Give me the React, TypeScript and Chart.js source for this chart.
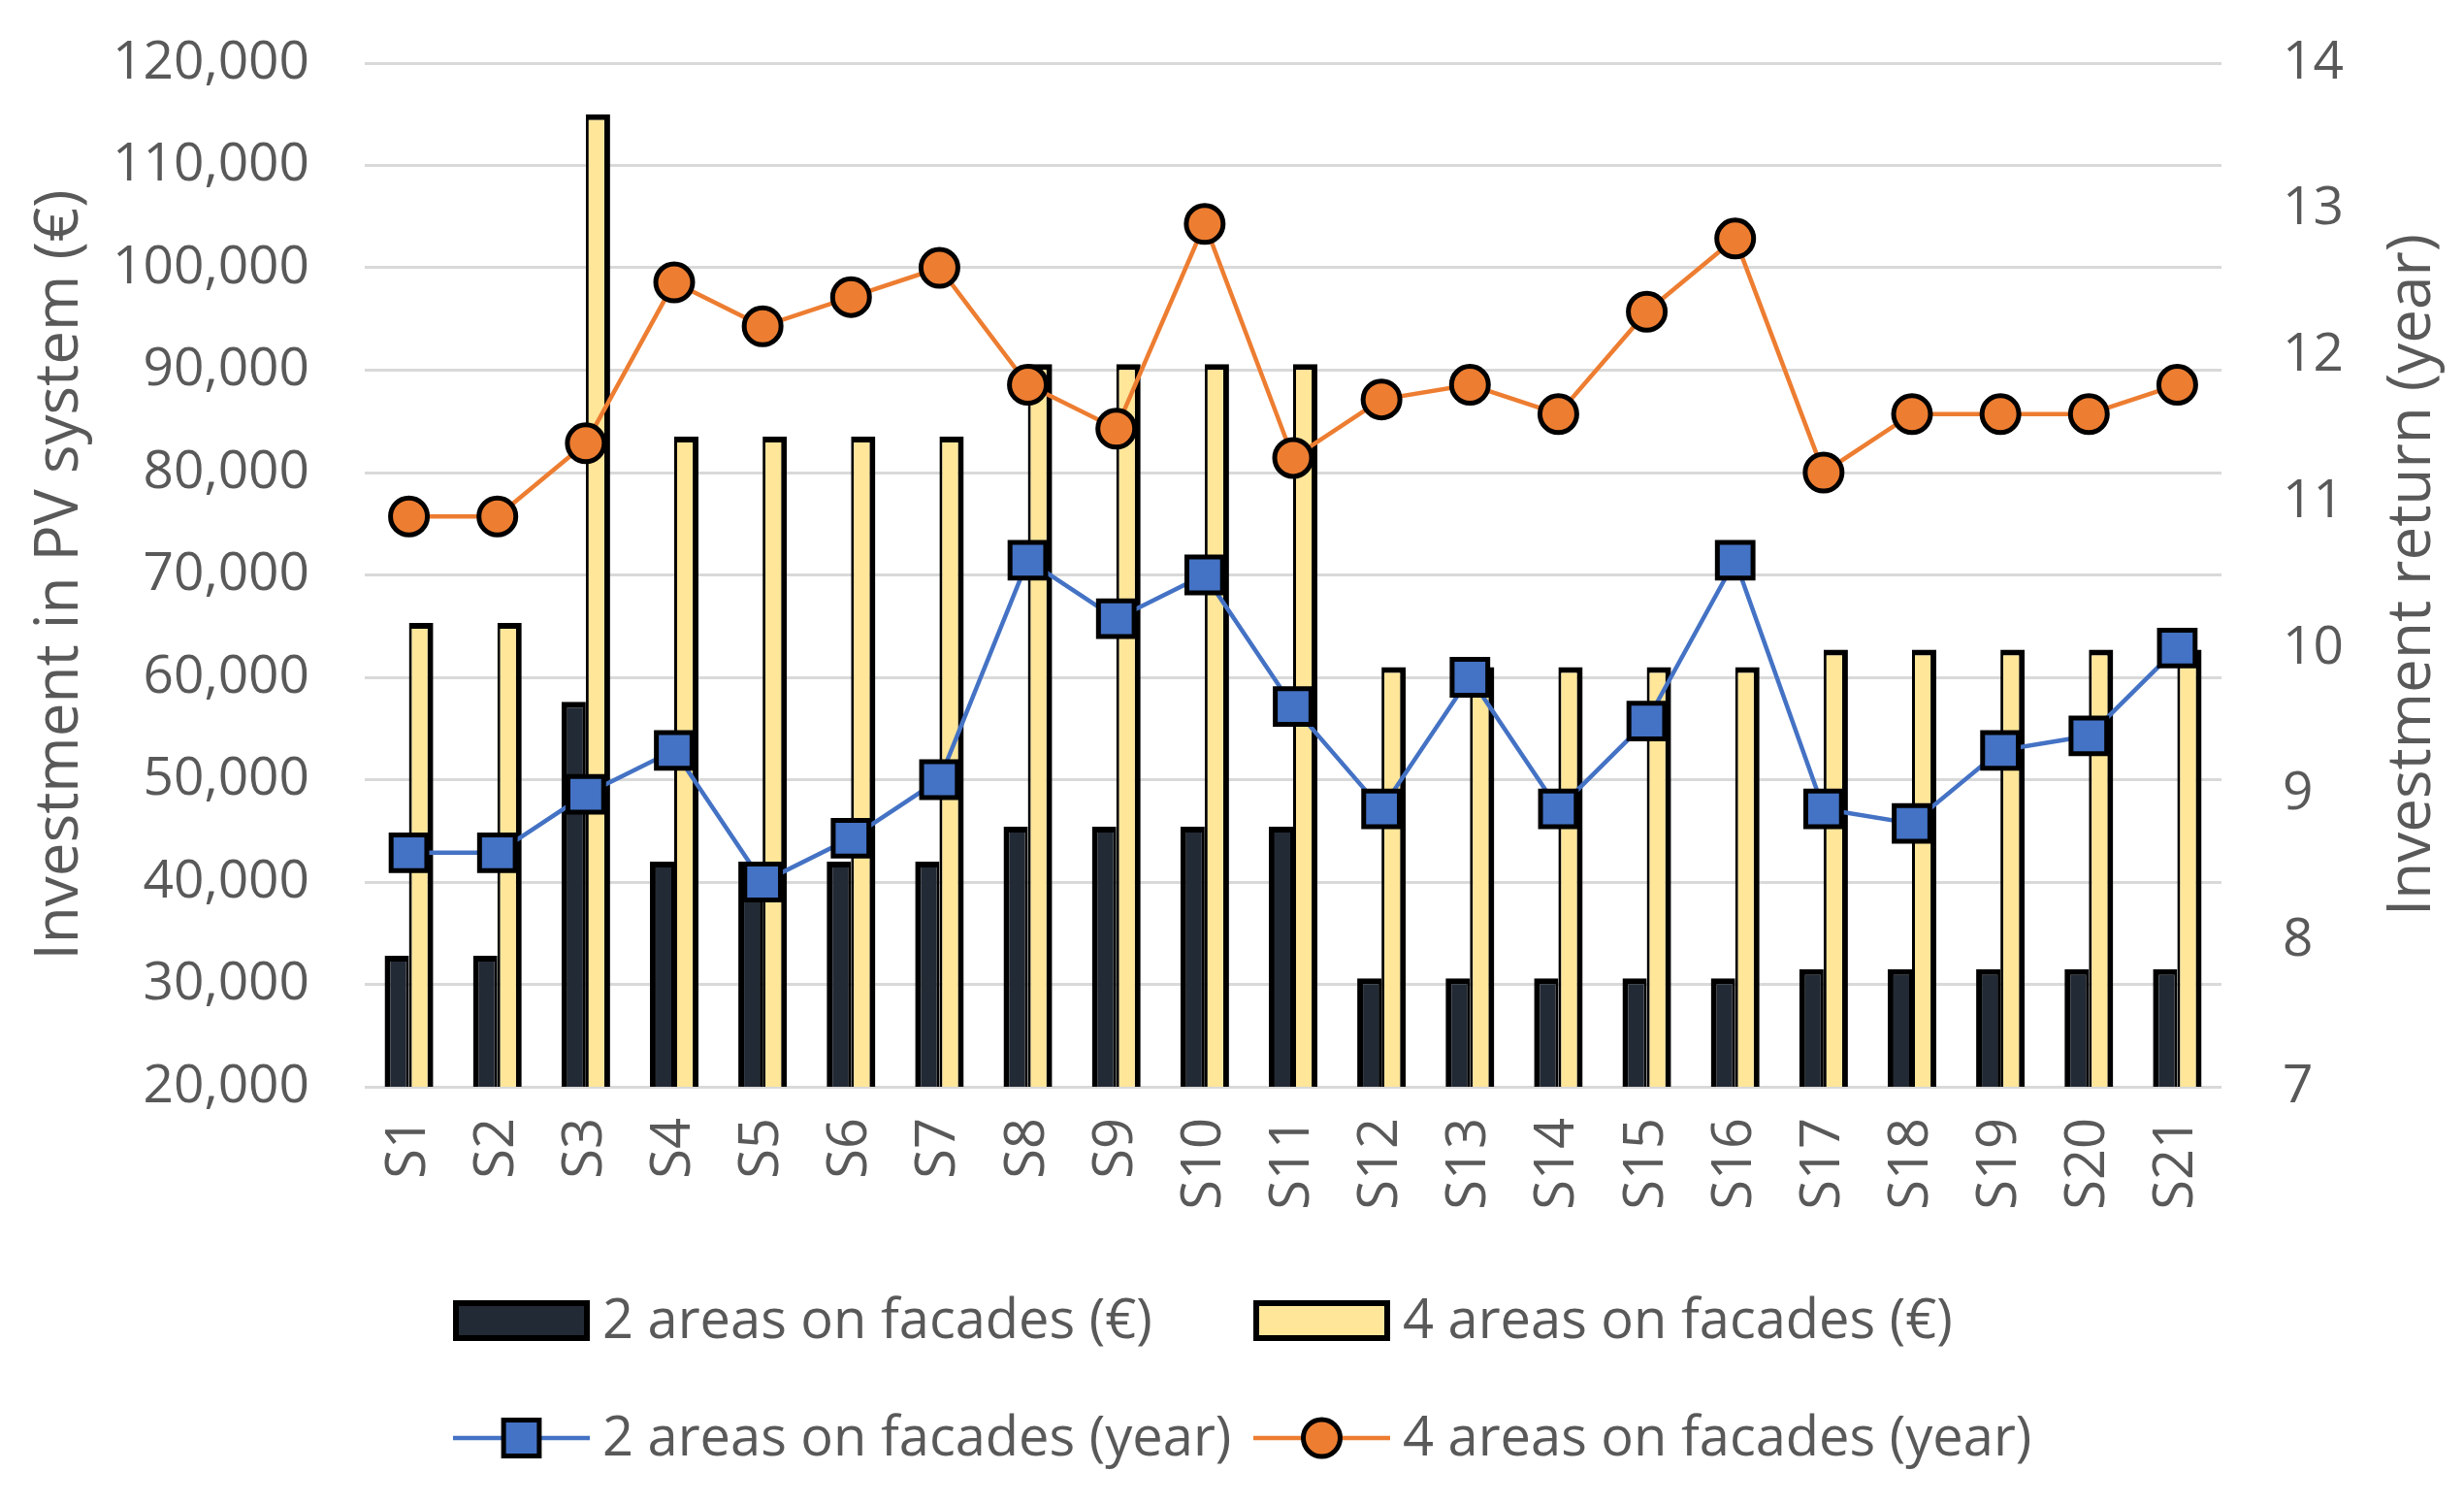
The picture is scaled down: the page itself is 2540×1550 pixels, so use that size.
import React, { useEffect, useRef } from "react";
import { Chart, registerables } from "chart.js";

Chart.register(...registerables);

const categories = [
  "S1", "S2", "S3", "S4", "S5", "S6", "S7", "S8", "S9", "S10", "S11",
  "S12", "S13", "S14", "S15", "S16", "S17", "S18", "S19", "S20", "S21",
];

// Investment in PV system (€)
const invest2Areas = [
  32800, 32800, 57600, 42000, 42000, 42000, 42000, 45400, 45400, 45400, 45400,
  30600, 30600, 30600, 30600, 30600, 31500, 31500, 31500, 31500, 31500,
];
const invest4Areas = [
  65300, 65300, 115000, 83500, 83500, 83500, 83500, 90600, 90600, 90600, 90600,
  61000, 61000, 61000, 61000, 61000, 62700, 62700, 62700, 62700, 62700,
];

// Investment return (year)
const return2Areas = [
  8.6, 8.6, 9.0, 9.3, 8.4, 8.7, 9.1, 10.6, 10.2, 10.5, 9.6,
  8.9, 9.8, 8.9, 9.5, 10.6, 8.9, 8.8, 9.3, 9.4, 10.0,
];
const return4Areas = [
  10.9, 10.9, 11.4, 12.5, 12.2, 12.4, 12.6, 11.8, 11.5, 12.9, 11.3,
  11.7, 11.8, 11.6, 12.3, 12.8, 11.2, 11.6, 11.6, 11.6, 11.8,
];

const seriesLabels = [
  "2 areas on facades (€)",
  "4 areas on facades (€)",
  "2 areas on facades (year)",
  "4 areas on facades (year)",
];

const leftAxisTitle = "Investment in PV system (€)";
const rightAxisTitle = "Investment return (year)";

const TEXT = "#595959";
const FONT = "'Open Sans', sans-serif";
const DARK = "#222A35";
const YELLOW = "#FFE699";
const BLUE = "#4472C4";
const ORANGE = "#ED7D31";

const extrasPlugin = {
  id: "extras",
  afterDraw(chart: any) {
    const ctx = chart.ctx as CanvasRenderingContext2D;
    const area = chart.chartArea;
    const y1 = chart.scales.y1;
    ctx.save();
    // right axis title, reading bottom to top
    ctx.font = `62px ${FONT}`;
    ctx.fillStyle = TEXT;
    ctx.textAlign = "center";
    ctx.textBaseline = "middle";
    ctx.translate(y1.left + 197, (area.top + area.bottom) / 2);
    ctx.rotate(-Math.PI / 2);
    ctx.fillText(rightAxisTitle, 0, 0);
    ctx.restore();

    // legend
    ctx.save();
    const cols = [467, 1292];
    const rows = [1361, 1482];
    const boxW = 141;
    const boxH = 42;
    const textGap = 154;
    const datasets = chart.data.datasets;
    datasets.forEach((d: any, i: number) => {
      const x = cols[i % 2];
      const y = rows[Math.floor(i / 2)];
      if (d.type === "bar") {
        ctx.fillStyle = "#000000";
        ctx.fillRect(x, y - boxH / 2, boxW, boxH);
        ctx.fillStyle = d.backgroundColor;
        ctx.fillRect(x + 6, y - boxH / 2 + 6, boxW - 12, boxH - 12);
      } else {
        ctx.strokeStyle = d.borderColor;
        ctx.lineWidth = d.borderWidth;
        ctx.beginPath();
        ctx.moveTo(x, y);
        ctx.lineTo(x + boxW, y);
        ctx.stroke();
        const cx = x + boxW / 2;
        ctx.fillStyle = d.pointBackgroundColor;
        ctx.strokeStyle = d.pointBorderColor;
        ctx.lineWidth = d.pointBorderWidth;
        ctx.beginPath();
        if (d.pointStyle === "rect") {
          const s = d.pointRadius * Math.SQRT1_2;
          ctx.rect(cx - s, y - s, 2 * s, 2 * s);
        } else {
          ctx.arc(cx, y, d.pointRadius, 0, Math.PI * 2);
        }
        ctx.fill();
        ctx.stroke();
      }
      ctx.font = `56px ${FONT}`;
      ctx.fillStyle = TEXT;
      ctx.textAlign = "left";
      ctx.textBaseline = "middle";
      ctx.fillText(d.label, x + textGap, y + 2);
    });
    ctx.restore();
  },
};

export default function App() {
  const canvasRef = useRef<HTMLCanvasElement | null>(null);

  useEffect(() => {
    if (!canvasRef.current) return;
    Chart.defaults.font.family = FONT;
    Chart.defaults.color = TEXT;

    const chart = new Chart(canvasRef.current, {
      type: "bar",
      data: {
        labels: categories,
        datasets: [
          {
            type: "bar",
            label: seriesLabels[0],
            data: invest2Areas,
            yAxisID: "y",
            backgroundColor: DARK,
            borderColor: "#000000",
            borderWidth: { top: 6, left: 6, right: 3, bottom: 0 },
            borderSkipped: false,
            categoryPercentage: 0.55,
            barPercentage: 1.0,
            order: 2,
          },
          {
            type: "bar",
            label: seriesLabels[1],
            data: invest4Areas,
            yAxisID: "y",
            backgroundColor: YELLOW,
            borderColor: "#000000",
            borderWidth: { top: 6, left: 3, right: 6, bottom: 0 },
            borderSkipped: false,
            categoryPercentage: 0.55,
            barPercentage: 1.0,
            order: 3,
          },
          {
            type: "line",
            label: seriesLabels[2],
            data: return2Areas,
            yAxisID: "y1",
            borderColor: BLUE,
            borderWidth: 4.5,
            pointStyle: "rect",
            pointRadius: 26,
            pointBackgroundColor: BLUE,
            pointBorderColor: "#000000",
            pointBorderWidth: 5,
            tension: 0,
            fill: false,
            order: 1,
          },
          {
            type: "line",
            label: seriesLabels[3],
            data: return4Areas,
            yAxisID: "y1",
            borderColor: ORANGE,
            borderWidth: 4.5,
            pointStyle: "circle",
            pointRadius: 19,
            pointBackgroundColor: ORANGE,
            pointBorderColor: "#000000",
            pointBorderWidth: 5,
            tension: 0,
            fill: false,
            order: 0,
          },
        ] as any,
      },
      options: {
        animation: false,
        responsive: false,
        devicePixelRatio: 1,
        layout: { padding: { top: 65, bottom: 270, left: 0, right: 0 } },
        plugins: {
          legend: { display: false },
          tooltip: { enabled: false },
        },
        scales: {
          x: {
            type: "category",
            offset: true,
            grid: { display: false, drawTicks: false },
            border: { display: false },
            ticks: {
              autoSkip: false,
              minRotation: 90,
              maxRotation: 90,
              padding: 32,
              font: { size: 56 },
              color: TEXT,
            },
            afterFit(scale: any) {
              scale.height = 160;
            },
          },
          y: {
            position: "left",
            min: 20000,
            max: 120000,
            ticks: {
              stepSize: 10000,
              padding: 57,
              font: { size: 55 },
              color: TEXT,
              callback: (v: any) => Number(v).toLocaleString("en-US"),
            },
            grid: { color: "#D9D9D9", lineWidth: 3, drawTicks: false },
            border: { display: false },
            title: {
              display: true,
              text: leftAxisTitle,
              font: { size: 62 },
              color: TEXT,
              padding: { top: 25, bottom: 0 },
            },
            afterFit(scale: any) {
              scale.width = 376;
              scale.paddingTop = 0;
              scale.paddingBottom = 0;
            },
          },
          y1: {
            position: "right",
            min: 7,
            max: 14,
            ticks: {
              stepSize: 1,
              padding: 63,
              font: { size: 55 },
              color: TEXT,
            },
            grid: { display: false, drawTicks: false },
            border: { display: false },
            afterFit(scale: any) {
              scale.width = 250;
              scale.paddingTop = 0;
              scale.paddingBottom = 0;
            },
          },
        } as any,
      },
      plugins: [extrasPlugin],
    });

    return () => {
      chart.destroy();
    };
  }, []);

  return (
    <div
      style={{
        position: "absolute",
        left: 0,
        top: 0,
        width: 2540,
        height: 1550,
        background: "#ffffff",
      }}
    >
      <canvas
        ref={canvasRef}
        width={2540}
        height={1550}
        style={{ width: 2540, height: 1550, display: "block" }}
      />
    </div>
  );
}
